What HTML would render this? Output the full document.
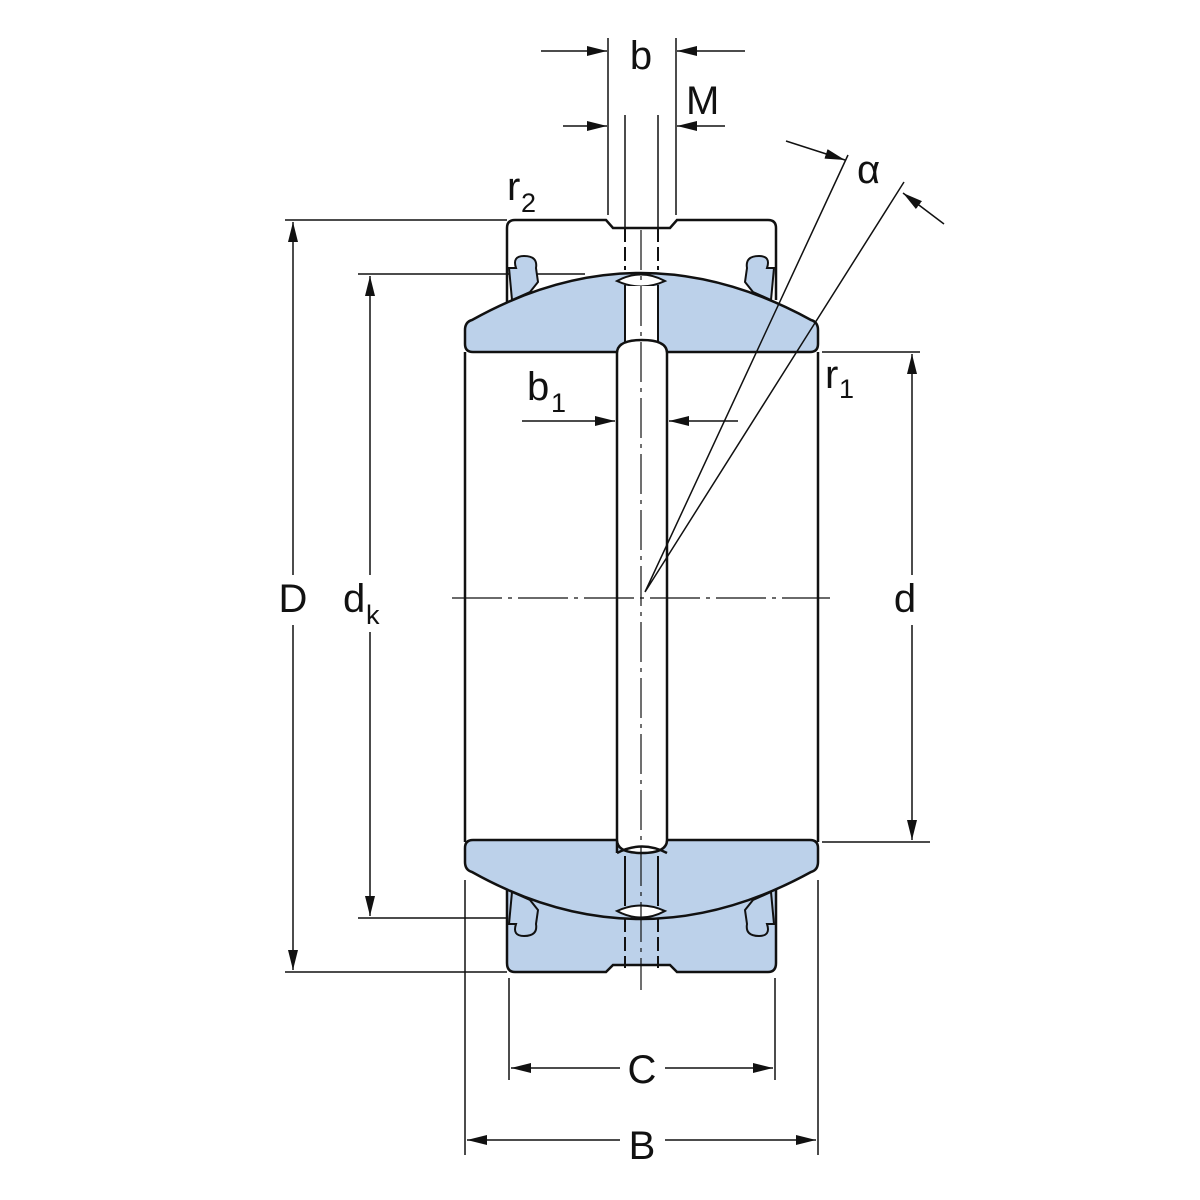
<!DOCTYPE html>
<html><head><style>body{margin:0;background:#fff}svg{display:block}text{font-family:"Liberation Sans",sans-serif;fill:#111}</style></head>
<body>
<svg width="1200" height="1200" viewBox="0 0 1200 1200" xmlns="http://www.w3.org/2000/svg">
<defs>
<marker id="a" viewBox="0 0 20 10" refX="20" refY="5" markerWidth="20" markerHeight="10" markerUnits="userSpaceOnUse" orient="auto"><path d="M0,0 L20,5 L0,10 z" fill="#111"/></marker>
</defs>
<g stroke="#111" fill="none" stroke-width="1.5">
<line x1="285" y1="220" x2="507" y2="220"/>
<line x1="285" y1="972" x2="507" y2="972"/>
<line x1="358" y1="274" x2="585" y2="274"/>
<line x1="358" y1="918" x2="585" y2="918"/>
<line x1="822" y1="352" x2="920" y2="352"/>
<line x1="822" y1="842" x2="930" y2="842"/>
<line x1="509" y1="978" x2="509" y2="1080"/>
<line x1="775" y1="978" x2="775" y2="1080"/>
<line x1="465" y1="880" x2="465" y2="1155"/>
<line x1="818" y1="880" x2="818" y2="1155"/>
<line x1="608" y1="38" x2="608" y2="215"/>
<line x1="676" y1="38" x2="676" y2="215"/>
<line x1="625" y1="115" x2="625" y2="228"/>
<line x1="658" y1="115" x2="658" y2="228"/>
<line x1="293" y1="575" x2="293" y2="222" marker-end="url(#a)"/>
<line x1="293" y1="625" x2="293" y2="970" marker-end="url(#a)"/>
<line x1="370" y1="575" x2="370" y2="276" marker-end="url(#a)"/>
<line x1="370" y1="632" x2="370" y2="916" marker-end="url(#a)"/>
<line x1="912" y1="575" x2="912" y2="354" marker-end="url(#a)"/>
<line x1="912" y1="625" x2="912" y2="840" marker-end="url(#a)"/>
<line x1="620" y1="1068" x2="511" y2="1068" marker-end="url(#a)"/>
<line x1="665" y1="1068" x2="773" y2="1068" marker-end="url(#a)"/>
<line x1="620" y1="1140" x2="467" y2="1140" marker-end="url(#a)"/>
<line x1="665" y1="1140" x2="816" y2="1140" marker-end="url(#a)"/>
<line x1="541" y1="51" x2="607" y2="51" marker-end="url(#a)"/>
<line x1="745" y1="51" x2="677" y2="51" marker-end="url(#a)"/>
<line x1="563" y1="126" x2="607" y2="126" marker-end="url(#a)"/>
<line x1="725" y1="126" x2="677" y2="126" marker-end="url(#a)"/>
<line x1="522" y1="421" x2="615" y2="421" marker-end="url(#a)"/>
<line x1="738" y1="421" x2="669" y2="421" marker-end="url(#a)"/>
<line x1="786" y1="141" x2="845" y2="160" marker-end="url(#a)"/>
<line x1="944" y1="224" x2="903" y2="193" marker-end="url(#a)"/>
</g>
<path d="M507,228 Q507,220 515,220 H606 L613,228 H670 L677,220 H768 Q776,220 776,228 V300 M507,228 V305" stroke="#111" stroke-width="2.5" fill="none"/>
<path d="M507,880 V963 Q507,972 515,972 H606 L613,965 H670 L677,972 H768 Q776,972 776,963 V880 Z" fill="#bcd1ea" stroke="none"/>
<path d="M507,880 V963 Q507,972 515,972 H606 L613,965 H670 L677,972 H768 Q776,972 776,963 V885" fill="none" stroke="#111" stroke-width="2.5"/>
<g fill="#bcd1ea" stroke="#111" stroke-width="2">
<path d="M509,268 L516,268 Q512,256 524,256 Q538,256 536,268 L538,282 L530,292 L512,300 Z"/>
<path d="M774,268 L767,268 Q771,256 759,256 Q745,256 747,268 L745,282 L753,292 L771,300 Z"/>
<path d="M509,924 L516,924 Q512,936 524,936 Q538,936 536,924 L538,910 L530,900 L512,892 Z"/>
<path d="M774,924 L767,924 Q771,936 759,936 Q745,936 747,924 L745,910 L753,900 L771,892 Z"/>
</g>
<path d="M465,330 Q465,322 472,320 Q640,226 811,320 Q818,322 818,330 V344 Q818,352 810,352 H473 Q465,352 465,344 Z" fill="#bcd1ea" stroke="#111" stroke-width="2.5"/>
<path d="M465,848 Q465,840 473,840 H810 Q818,840 818,848 V862 Q818,870 811,872 Q640,966 472,872 Q465,870 465,862 Z" fill="#bcd1ea" stroke="#111" stroke-width="2.5"/>
<path d="M617,281 Q641,268 665,281 Q641,292 617,281 Z" fill="#fff" stroke="#111" stroke-width="2"/>
<path d="M625,285 V345 M658,285 V345" stroke="#111" stroke-width="2"/>
<rect x="626" y="286" width="31" height="56" fill="#fff"/>
<path d="M617,911 Q641,924 665,911 Q641,900 617,911 Z" fill="#fff" stroke="#111" stroke-width="2"/>
<path d="M617,853 V353 Q617,340 642,340 Q667,340 667,353 V840 Q667,853 642,853 Q617,853 617,840" fill="#fff" stroke="#111" stroke-width="2.5"/>
<path d="M617,853 Q642,840 667,853" fill="none" stroke="#111" stroke-width="2.5"/>
<path d="M625,856 V906 M658,856 V906" stroke="#111" stroke-width="2"/>
<path d="M625,918 V968 M658,918 V968" stroke="#111" stroke-width="2" stroke-dasharray="14,5"/>
<path d="M625,228 V270 M658,228 V270" stroke="#111" stroke-width="2" stroke-dasharray="14,5"/>
<path d="M465,352 V842 M818,352 V842" stroke="#111" stroke-width="2.5"/>
<path d="M452,598 H830" stroke="#111" stroke-width="1.2" stroke-dasharray="50,6,4,6"/>
<path d="M641,230 V990" stroke="#111" stroke-width="1.2" stroke-dasharray="40,6,4,6"/>
<path d="M645,592 L848,155 M645,592 L904,182" stroke="#111" stroke-width="1.5"/>
<text x="293" y="612" font-size="40" text-anchor="middle">D</text>
<text x="343" y="612" font-size="40">d</text><text x="366" y="624" font-size="27">k</text>
<text x="905" y="612" font-size="40" text-anchor="middle">d</text>
<text x="642" y="1083" font-size="40" text-anchor="middle">C</text>
<text x="642" y="1159" font-size="40" text-anchor="middle">B</text>
<text x="641" y="69" font-size="40" text-anchor="middle">b</text>
<text x="686" y="114" font-size="40">M</text>
<text x="857" y="183" font-size="40">α</text>
<text x="507" y="200" font-size="40">r</text><text x="521" y="212" font-size="27">2</text>
<text x="825" y="388" font-size="40">r</text><text x="839" y="398" font-size="27">1</text>
<text x="527" y="400" font-size="40">b</text><text x="551" y="412" font-size="27">1</text>
</svg>
</body></html>
